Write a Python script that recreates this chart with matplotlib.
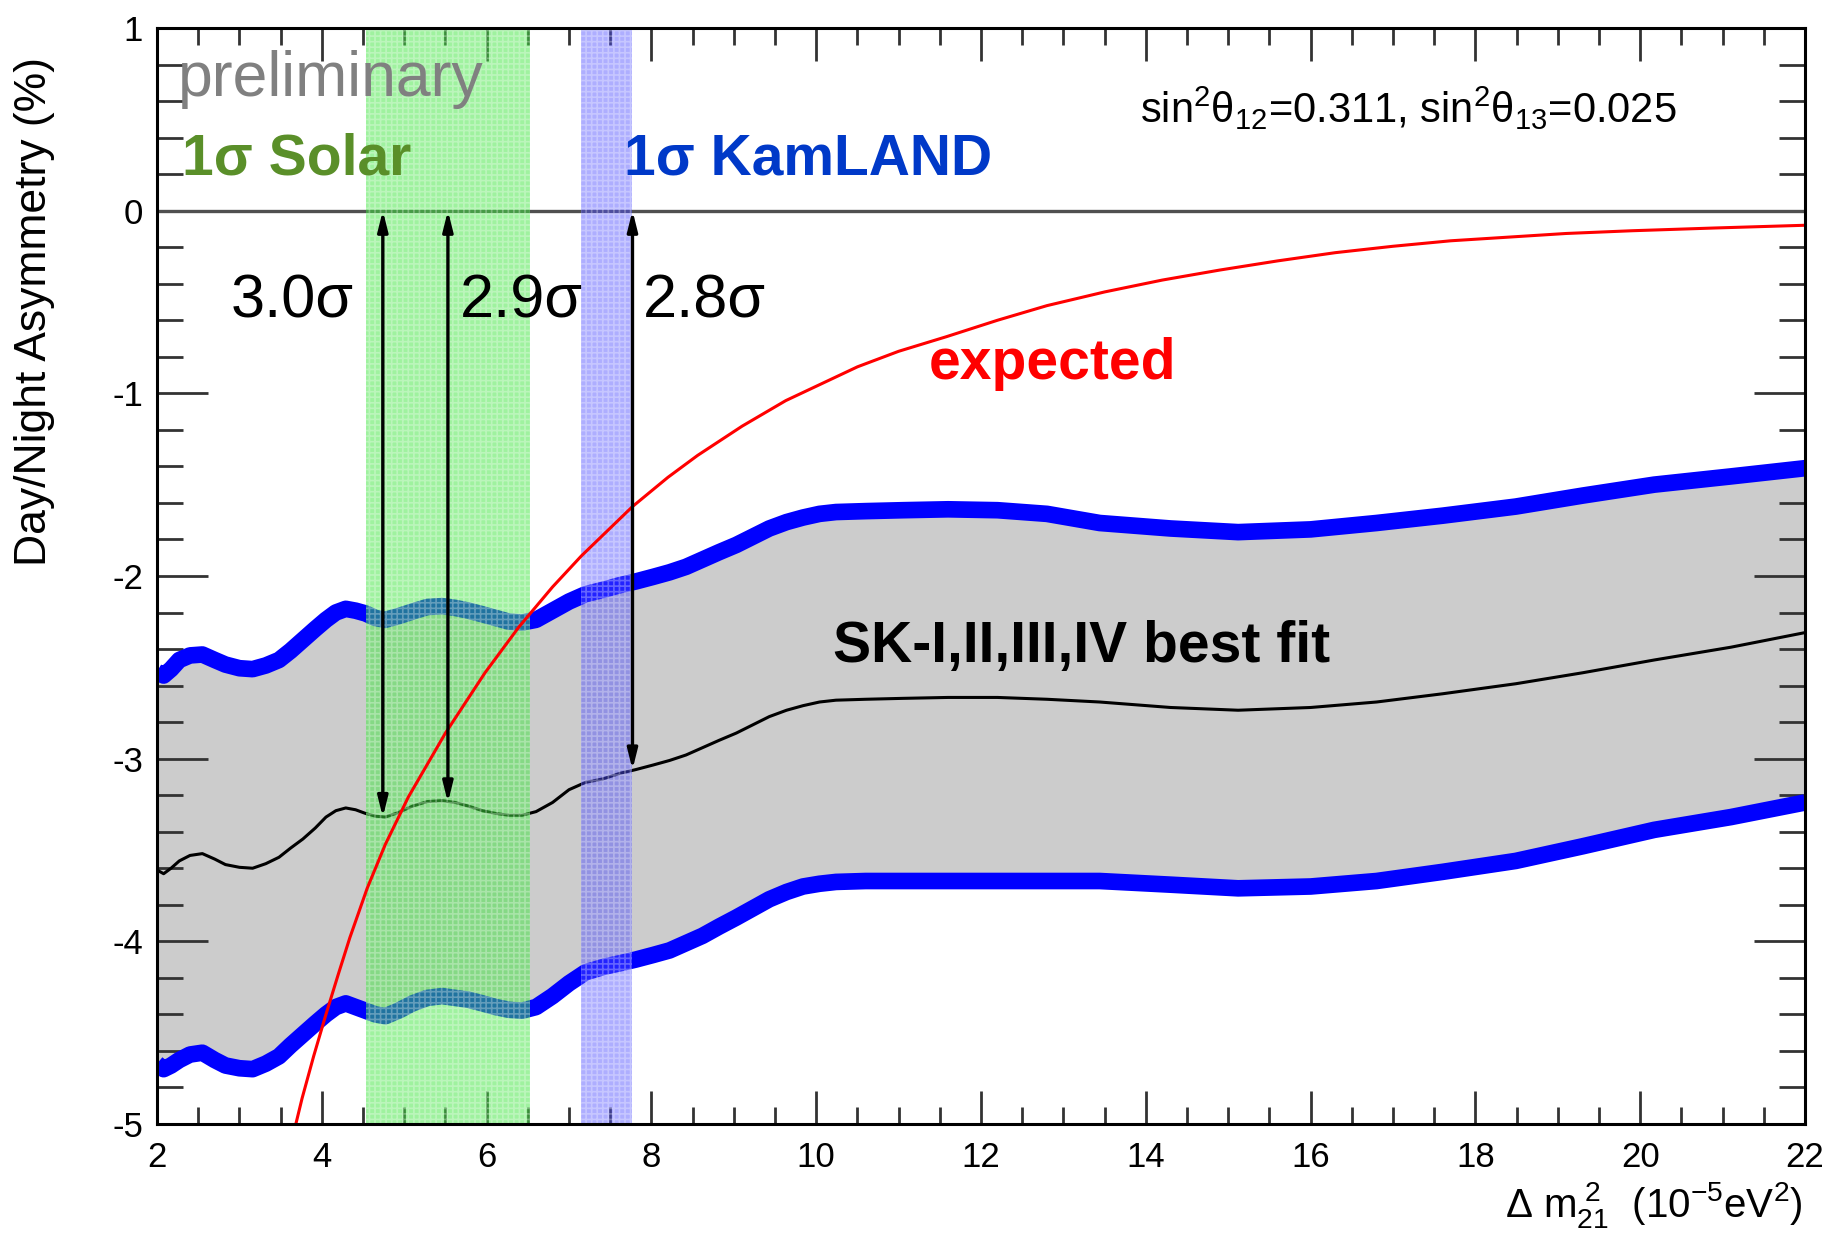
import numpy as np
import matplotlib.pyplot as plt
from matplotlib.ticker import MultipleLocator

plt.rcParams['font.family'] = ['Liberation Sans', 'DejaVu Sans']
plt.rcParams['mathtext.fontset'] = 'custom'
plt.rcParams['mathtext.rm'] = 'Liberation Sans'
plt.rcParams['mathtext.it'] = 'Liberation Sans:italic'
plt.rcParams['axes.unicode_minus'] = False
plt.rcParams['hatch.linewidth'] = 1.2

# SK-I,II,III,IV best fit and its band (day/night asymmetry in %)
dm2 = [2.0, 2.08, 2.17, 2.27, 2.4, 2.55, 2.7, 2.83, 3.0, 3.16, 3.32, 3.48, 3.62,
       3.77, 3.92, 4.05, 4.17, 4.29, 4.41, 4.53, 4.65, 4.77, 4.93, 5.10, 5.28,
       5.46, 5.62, 5.78, 5.95, 6.11, 6.27, 6.43, 6.6, 6.8, 7.0, 7.2, 7.42, 7.62,
       7.81, 8.02, 8.22, 8.42, 8.62, 8.82, 9.03, 9.23, 9.43, 9.64, 9.84, 10.04,
       10.24, 10.6, 11.05, 11.6, 12.2, 12.8, 13.44, 14.3, 15.12, 16.0, 16.8,
       17.6, 18.49, 19.3, 20.17, 21.1, 22.0]
best_fit = [-3.61, -3.63, -3.60, -3.56, -3.53, -3.52, -3.55, -3.58, -3.595, -3.60,
            -3.575, -3.54, -3.49, -3.44, -3.38, -3.32, -3.285, -3.27, -3.28, -3.30,
            -3.315, -3.32, -3.295, -3.26, -3.235, -3.23, -3.24, -3.26, -3.285, -3.30,
            -3.31, -3.31, -3.29, -3.24, -3.17, -3.13, -3.11, -3.08, -3.06, -3.035,
            -3.01, -2.98, -2.94, -2.90, -2.86, -2.815, -2.77, -2.735, -2.71, -2.69,
            -2.68, -2.675, -2.67, -2.665, -2.665, -2.675, -2.69, -2.72, -2.735, -2.72,
            -2.69, -2.645, -2.59, -2.53, -2.46, -2.39, -2.31]
upper = [-2.525, -2.545, -2.51, -2.46, -2.435, -2.43, -2.46, -2.485, -2.505, -2.51,
         -2.49, -2.46, -2.41, -2.35, -2.29, -2.24, -2.20, -2.18, -2.19, -2.205,
         -2.23, -2.24, -2.22, -2.195, -2.17, -2.165, -2.175, -2.19, -2.21, -2.23,
         -2.25, -2.255, -2.24, -2.19, -2.14, -2.10, -2.075, -2.05, -2.03, -2.005,
         -1.98, -1.95, -1.91, -1.87, -1.83, -1.785, -1.74, -1.705, -1.68, -1.66,
         -1.65, -1.645, -1.64, -1.635, -1.64, -1.66, -1.71, -1.74, -1.76, -1.745,
         -1.71, -1.67, -1.62, -1.56, -1.50, -1.455, -1.41]
lower = [-4.67, -4.70, -4.68, -4.65, -4.62, -4.61, -4.65, -4.68, -4.695, -4.70,
         -4.67, -4.63, -4.57, -4.51, -4.45, -4.40, -4.36, -4.34, -4.36, -4.38,
         -4.40, -4.41, -4.38, -4.34, -4.31, -4.30, -4.31, -4.32, -4.34, -4.36,
         -4.375, -4.38, -4.36, -4.30, -4.23, -4.17, -4.14, -4.12, -4.10, -4.075,
         -4.05, -4.01, -3.97, -3.92, -3.87, -3.82, -3.77, -3.73, -3.70, -3.685,
         -3.675, -3.67, -3.67, -3.67, -3.67, -3.67, -3.67, -3.69, -3.71, -3.70,
         -3.67, -3.62, -3.56, -3.48, -3.39, -3.32, -3.24]

# expected asymmetry
exp_x = [3.62, 3.76, 3.9, 4.05, 4.2, 4.34, 4.55, 4.77, 5.05, 5.5, 5.98, 6.39,
         6.8, 7.15, 7.77, 8.2, 8.56, 9.1, 9.63, 10.5, 11.0, 11.58, 12.2, 12.8,
         13.5, 14.2, 14.9, 15.6, 16.3, 17.0, 17.7, 18.4, 19.1, 19.9, 20.9, 22.0]
exp_y = [-5.12, -4.86, -4.63, -4.40, -4.18, -3.98, -3.71, -3.47, -3.21, -2.86,
         -2.53, -2.28, -2.06, -1.89, -1.62, -1.46, -1.34, -1.18, -1.04, -0.855,
         -0.77, -0.69, -0.60, -0.52, -0.445, -0.38, -0.325, -0.275, -0.23, -0.195,
         -0.165, -0.145, -0.125, -0.11, -0.095, -0.08]

# 1 sigma ranges
solar = (4.54, 6.53)
kamland = (7.15, 7.76)

# significance arrows
arrow_x = [4.74, 5.53, 7.77]
arrow_y = [-3.32, -3.24, -3.06]
arrow_lab = ['3.0σ', '2.9σ', '2.8σ']
lab_x = [2.89, 5.67, 7.90]

fig = plt.figure(figsize=(18.24, 12.44), dpi=100)
ax = fig.add_axes([0.0861, 0.0965, 0.9035, 0.881])

ax.fill_between(dm2, lower, upper, color='#cccccc', lw=0, zorder=1)
ax.plot(dm2, upper, color='#0000ff', lw=12, solid_capstyle='butt', zorder=2)
ax.plot(dm2, lower, color='#0000ff', lw=12, solid_capstyle='butt', zorder=2)
ax.plot(dm2, best_fit, color='black', lw=2.2, zorder=3)
ax.axhline(0, color='#505050', lw=2.4, zorder=2)

ax.axvspan(solar[0], solar[1], facecolor=(0.25, 0.9, 0.25), alpha=0.5, lw=0, zorder=4)
ax.axvspan(solar[0], solar[1], facecolor='none', edgecolor='white', alpha=0.3,
           hatch='+++', lw=0, zorder=4)
ax.axvspan(kamland[0], kamland[1], facecolor=(0.3, 0.3, 1.0), alpha=0.45, lw=0, zorder=4)
ax.axvspan(kamland[0], kamland[1], facecolor='none', edgecolor='white', alpha=0.3,
           hatch='+++', lw=0, zorder=4)

ax.plot(exp_x, exp_y, color='#ff0000', lw=2.2, zorder=5)

for x, y in zip(arrow_x, arrow_y):
    ax.annotate('', xy=(x, 0), xytext=(x, y),
                arrowprops=dict(arrowstyle='<|-|>,head_length=1.2,head_width=0.3',
                                color='black', lw=2.4, shrinkA=0, shrinkB=0),
                zorder=6)
for x, t in zip(lab_x, arrow_lab):
    ax.text(x, -0.5, t, fontsize=44, ha='left', va='center', zorder=7)

ax.text(2.25, 0.72, 'preliminary', fontsize=45, color='#808080', va='center', zorder=7)
ax.text(2.3, 0.28, '1σ Solar', fontsize=41, color='#5a8f29', fontweight='bold',
        va='center', zorder=7)
ax.text(7.67, 0.28, '1σ KamLAND', fontsize=41, color='#0039c8', fontweight='bold',
        va='center', zorder=7)
ax.text(13.93, 0.56, r'$\mathrm{sin^2θ_{12}}$=0.311, $\mathrm{sin^2θ_{13}}$=0.025',
        fontsize=30, va='center', zorder=7)
ax.text(11.36, -0.84, 'expected', fontsize=41, color='#ff0000', fontweight='bold',
        va='center', zorder=7)
ax.text(10.2, -2.39, 'SK-I,II,III,IV best fit', fontsize=41, color='black',
        fontweight='bold', va='center', zorder=7)

ax.set_xlim(2, 22)
ax.set_ylim(-5, 1)
ax.xaxis.set_major_locator(MultipleLocator(2))
ax.xaxis.set_minor_locator(MultipleLocator(0.5))
ax.yaxis.set_major_locator(MultipleLocator(1))
ax.yaxis.set_minor_locator(MultipleLocator(0.2))
ax.tick_params(axis='both', which='both', direction='in', top=True, right=True,
               color='#333333', width=2, labelsize=25)
ax.tick_params(axis='x', which='major', length=24, pad=12)
ax.tick_params(axis='x', which='minor', length=12)
ax.tick_params(axis='y', which='major', length=37, pad=10)
ax.tick_params(axis='y', which='minor', length=19)
for s in ax.spines.values():
    s.set_linewidth(2.2)
    s.set_zorder(8)

fig.text(0.019, 0.75, 'Day/Night Asymmetry (%)', rotation=90, fontsize=32,
         ha='center', va='center')
fig.text(0.9885, 0.022, r'$\mathrm{\Delta\ m^{\ 2}_{21}\ \ (10^{-5}eV^{2})}$', fontsize=29,
         ha='right', va='baseline')

fig.savefig('out.png', dpi=100)
